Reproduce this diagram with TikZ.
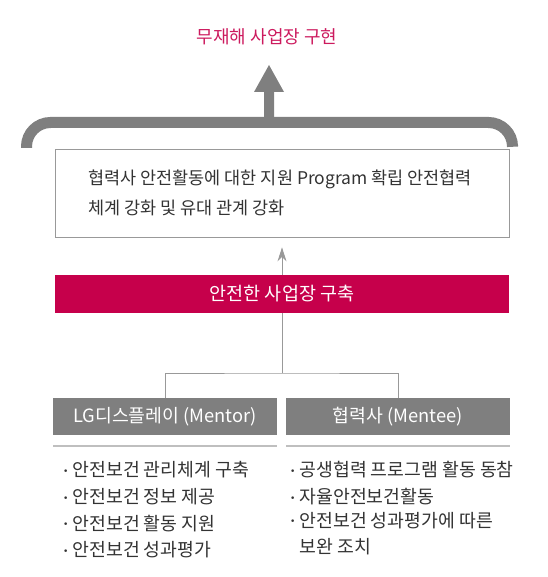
\documentclass[tikz,border=0pt]{standalone}
\usepackage{fontspec}
\setmainfont{Noto Sans CJK KR}
\newfontfamily\dejavu{DejaVu Sans}
\usetikzlibrary{arrows.meta}
\definecolor{lgred}{HTML}{C6004B}
\definecolor{titlered}{HTML}{CC1A5E}
\definecolor{midgray}{HTML}{7F7F7F}
\definecolor{txtgray}{HTML}{333333}
\newcommand{\blt}{\raisebox{2.5pt}{\dejavu\fontsize{9}{9}\selectfont •}\hspace{4pt}}
\begin{document}
\begin{tikzpicture}[x=1pt,y=-1pt,
  graybox/.style={fill=midgray, text=white, minimum width=224pt, minimum height=37pt, inner sep=0pt, font=\fontsize{18.3}{18.3}\selectfont},
  item/.style={anchor=west, inner sep=0pt, text=txtgray, align=left, font=\fontsize{18.3}{26.5}\selectfont},
  conn/.style={draw=gray!80, line width=0.8pt}]
\useasboundingbox (0,0) rectangle (547,577);
% title
\node[text=titlered, font=\fontsize{18}{18}\selectfont] (title) at (267,37) {무재해 사업장 구현};
% big arrow
\fill[midgray] (264,122) -- (264,92) -- (254,92) -- (269,65) -- (284,92) -- (274,92) -- (274,122) -- cycle;
% bracket
\draw[midgray, line width=11pt, rounded corners=24pt] (26.5,148) -- (26.5,122.5) -- (512.5,122.5) -- (512.5,145);
% white box
\node[draw=gray!80, line width=0.8pt, minimum width=454pt, minimum height=88pt, inner sep=0pt] (goal) at (282,193) {};
\node[anchor=north west, inner sep=0pt, text=txtgray, align=left, font=\fontsize{17.5}{30}\selectfont] (goaltxt) at (88,170) {협력사 안전활동에 대한 지원 Program 확립 안전협력\\체계 강화 및 유대 관계 강화};
% red box
\node[fill=lgred, text=white, minimum width=454pt, minimum height=38pt, inner sep=0pt, font=\fontsize{18.5}{18.5}\selectfont] (safe) at (282,294) {안전한 사업장 구축};
\draw[conn, -{Stealth[length=14pt,width=9pt]}, shorten >=10pt] (safe.north) -- (goal.south);
% gray boxes
\node[graybox] (mentor) at (165,416.5) {LG디스플레이 (Mentor)};
\node[graybox] (mentee) at (398,416.5) {협력사 (Mentee)};
\coordinate (j) at (282,373);
\draw[conn] (safe.south) -- (j);
\draw[conn] (mentor.north) |- (j) -| (mentee.north);
% separators
\draw[gray!50, line width=1.5pt] (53,446) coordinate (s1a) -- (277,446) coordinate (s1b);
\draw[gray!50, line width=1.5pt] (286,446) coordinate (s2a) -- (510,446) coordinate (s2b);
% items left
\node[item] (l1) at (63,470) {\blt 안전보건 관리체계 구축};
\node[item] (l2) at (63,497) {\blt 안전보건 정보 제공};
\node[item] (l3) at (63,523.5) {\blt 안전보건 활동 지원};
\node[item] (l4) at (63,550) {\blt 안전보건 성과평가};
% items right
\node[item] (r1) at (290,470) {\blt 공생협력 프로그램 활동 동참};
\node[item] (r2) at (290,497) {\blt 자율안전보건활동};
\node[item, anchor=north west] (r3) at (290,512) {\blt 안전보건 성과평가에 따른\\\phantom{\blt}보완 조치};
\end{tikzpicture}
\end{document}
